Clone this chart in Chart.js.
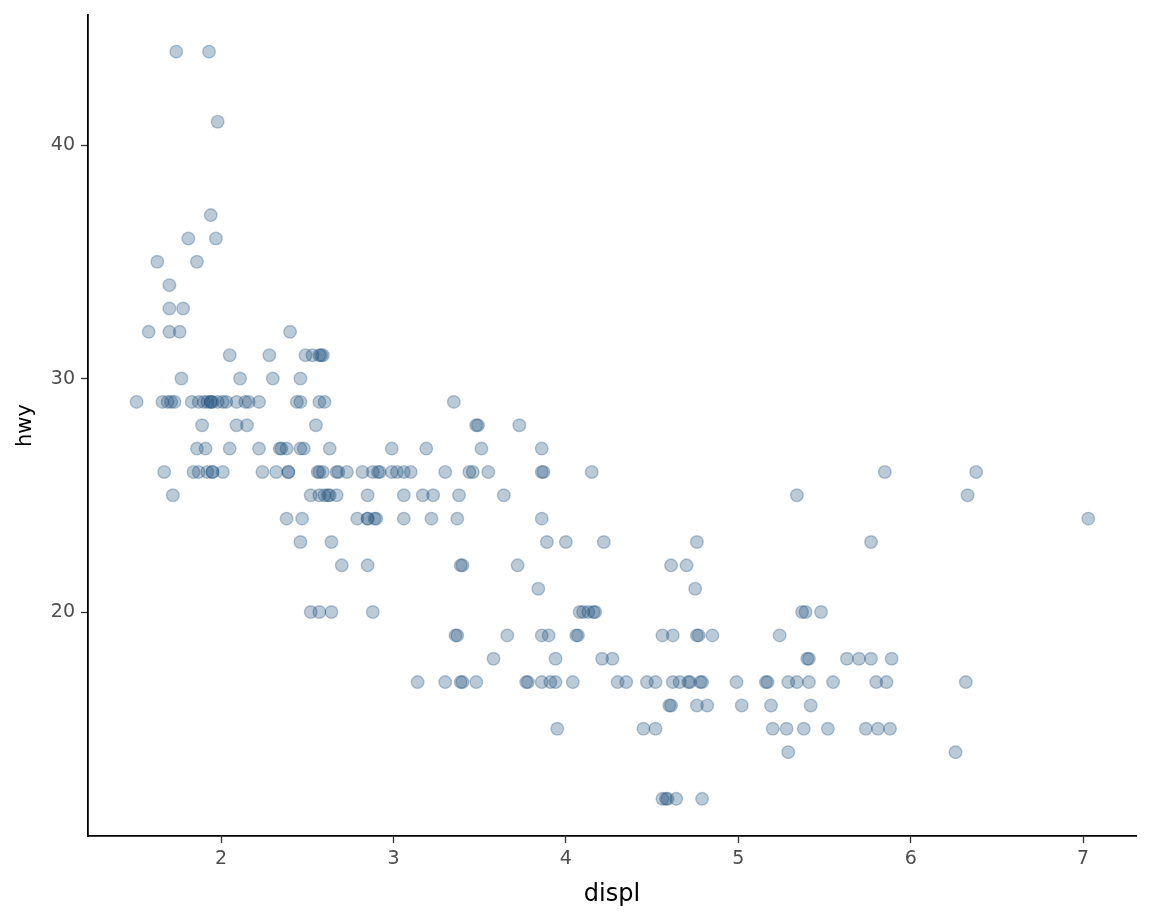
<!DOCTYPE html>
<html>
<head>
<meta charset="utf-8">
<script src="https://cdn.jsdelivr.net/npm/chart.js@4"></script>
<style>
  html, body { margin: 0; padding: 0; background: #fff; }
  #wrap { width: 1152px; height: 921px; position: relative; }
</style>
</head>
<body>
<div id="wrap"><canvas id="chart"></canvas></div>
<script>
// engine displacement (jittered horizontally), one line per hwy level
const displ = [
  1.74, 1.93,
  1.98,
  1.94,
  1.81, 1.97,
  1.63, 1.86,
  1.70,
  1.70, 1.78,
  1.58, 1.70, 1.76, 2.40,
  2.05, 2.28, 2.49, 2.53, 2.57, 2.58, 2.59,
  1.77, 2.11, 2.30, 2.46,
  1.51, 1.66, 1.69, 1.71, 1.73, 1.83, 1.87, 1.90, 1.92, 1.94, 1.94, 1.95,
  1.98, 2.01, 2.03, 2.09, 2.14, 2.16, 2.22, 2.44, 2.46, 2.57, 2.60, 3.35,
  1.89, 2.09, 2.15, 2.55, 3.48, 3.49, 3.73,
  1.86, 1.91, 2.05, 2.22, 2.34, 2.35, 2.38, 2.46, 2.48, 2.63, 2.99, 3.19, 3.51, 3.86,
  1.67, 1.84, 1.87, 1.92, 1.95, 1.95, 2.01, 2.24, 2.32, 2.39, 2.39, 2.56, 2.57, 2.59, 2.67, 2.68, 2.73,
  2.82, 2.88, 2.91, 2.92, 2.99, 3.02, 3.06, 3.10, 3.30, 3.44, 3.46, 3.55, 3.86, 3.87, 4.15, 5.85, 6.38,
  1.72, 2.52, 2.57, 2.60, 2.62, 2.63, 2.67, 2.85, 3.06, 3.17, 3.23, 3.38, 3.64, 5.34, 6.33,
  2.38, 2.47, 2.79, 2.85, 2.85, 2.89, 2.90, 3.06, 3.22, 3.37, 3.86, 7.03,
  2.46, 2.64, 3.89, 4.00, 4.22, 4.76, 5.77,
  2.70, 2.85, 3.39, 3.40, 3.72, 4.61, 4.70,
  3.84, 4.75,
  2.52, 2.57, 2.64, 2.88, 4.08, 4.10, 4.13, 4.16, 4.17, 5.37, 5.39, 5.48,
  3.36, 3.37, 3.66, 3.86, 3.90, 4.06, 4.07, 4.56, 4.62, 4.76, 4.77, 4.85, 5.24,
  3.58, 3.94, 4.21, 4.27, 5.40, 5.41, 5.63, 5.70, 5.77, 5.89,
  3.14, 3.30, 3.39, 3.40, 3.48, 3.77, 3.78, 3.86, 3.91, 3.94, 4.04, 4.30, 4.35, 4.47, 4.52, 4.62,
  4.66, 4.71, 4.72, 4.78, 4.79, 4.99, 5.16, 5.17, 5.29, 5.34, 5.41, 5.55, 5.80, 5.86, 6.32,
  4.60, 4.61, 4.76, 4.82, 5.02, 5.19, 5.42,
  3.95, 4.45, 4.52, 5.20, 5.28, 5.38, 5.52, 5.74, 5.81, 5.88,
  5.29, 6.26,
  4.56, 4.58, 4.59, 4.64, 4.79
];

// highway mpg, same layout as displ
const hwy = [
  44, 44,
  41,
  37,
  36, 36,
  35, 35,
  34,
  33, 33,
  32, 32, 32, 32,
  31, 31, 31, 31, 31, 31, 31,
  30, 30, 30, 30,
  29, 29, 29, 29, 29, 29, 29, 29, 29, 29, 29, 29,
  29, 29, 29, 29, 29, 29, 29, 29, 29, 29, 29, 29,
  28, 28, 28, 28, 28, 28, 28,
  27, 27, 27, 27, 27, 27, 27, 27, 27, 27, 27, 27, 27, 27,
  26, 26, 26, 26, 26, 26, 26, 26, 26, 26, 26, 26, 26, 26, 26, 26, 26,
  26, 26, 26, 26, 26, 26, 26, 26, 26, 26, 26, 26, 26, 26, 26, 26, 26,
  25, 25, 25, 25, 25, 25, 25, 25, 25, 25, 25, 25, 25, 25, 25,
  24, 24, 24, 24, 24, 24, 24, 24, 24, 24, 24, 24,
  23, 23, 23, 23, 23, 23, 23,
  22, 22, 22, 22, 22, 22, 22,
  21, 21,
  20, 20, 20, 20, 20, 20, 20, 20, 20, 20, 20, 20,
  19, 19, 19, 19, 19, 19, 19, 19, 19, 19, 19, 19, 19,
  18, 18, 18, 18, 18, 18, 18, 18, 18, 18,
  17, 17, 17, 17, 17, 17, 17, 17, 17, 17, 17, 17, 17, 17, 17, 17,
  17, 17, 17, 17, 17, 17, 17, 17, 17, 17, 17, 17, 17, 17, 17,
  16, 16, 16, 16, 16, 16, 16,
  15, 15, 15, 15, 15, 15, 15, 15, 15, 15,
  14, 14,
  12, 12, 12, 12, 12
];

const xTicks = [2, 3, 4, 5, 6, 7];
const yTicks = [20, 30, 40];

const points = displ.map((d, i) => ({ x: d, y: hwy[i] }));

const family = "'DejaVu Sans', 'Liberation Sans', sans-serif";
const tickFont = { family: family, size: 19 };

new Chart(document.getElementById("chart"), {
  type: "scatter",
  data: {
    datasets: [{
      data: points,
      pointRadius: 6.3,
      pointHoverRadius: 6.3,
      borderWidth: 1.4,
      backgroundColor: "rgba(31,78,121,0.3)",
      borderColor: "rgba(31,78,121,0.3)"
    }]
  },
  options: {
    responsive: true,
    maintainAspectRatio: false,
    animation: false,
    layout: { padding: { top: 15, right: 16, left: 0, bottom: 0 } },
    plugins: { legend: { display: false }, tooltip: { enabled: false } },
    scales: {
      x: {
        type: "linear",
        min: 1.228,
        max: 7.307,
        afterBuildTicks: (axis) => { axis.ticks = xTicks.map(v => ({ value: v })); },
        afterFit: (axis) => {
          axis.height = 85;
          axis.paddingLeft = 0;
          axis.paddingRight = 0;
        },
        border: { display: true, color: "#000", width: 1.8 },
        grid: { display: true, drawOnChartArea: false, drawTicks: true, tickLength: 7, tickColor: "#333", tickWidth: 1.3 },
        ticks: { color: "#4d4d4d", font: tickFont, padding: 5, maxRotation: 0 },
        title: { display: true, text: "displ", color: "#000", font: { family: family, size: 24 }, padding: { top: 0, bottom: 12 } }
      },
      y: {
        type: "linear",
        min: 10.41,
        max: 45.57,
        afterBuildTicks: (axis) => { axis.ticks = yTicks.map(v => ({ value: v })); },
        afterFit: (axis) => {
          axis.width = 88;
          axis.paddingTop = 0;
          axis.paddingBottom = 0;
        },
        border: { display: true, color: "#000", width: 1.8 },
        grid: { display: true, drawOnChartArea: false, drawTicks: true, tickLength: 7, tickColor: "#333", tickWidth: 1.3 },
        ticks: { color: "#4d4d4d", font: tickFont, padding: 6 },
        title: { display: true, text: "hwy", color: "#000", font: { family: family, size: 21 }, padding: { top: 13, bottom: 0 } }
      }
    }
  }
});
</script>
</body>
</html>
